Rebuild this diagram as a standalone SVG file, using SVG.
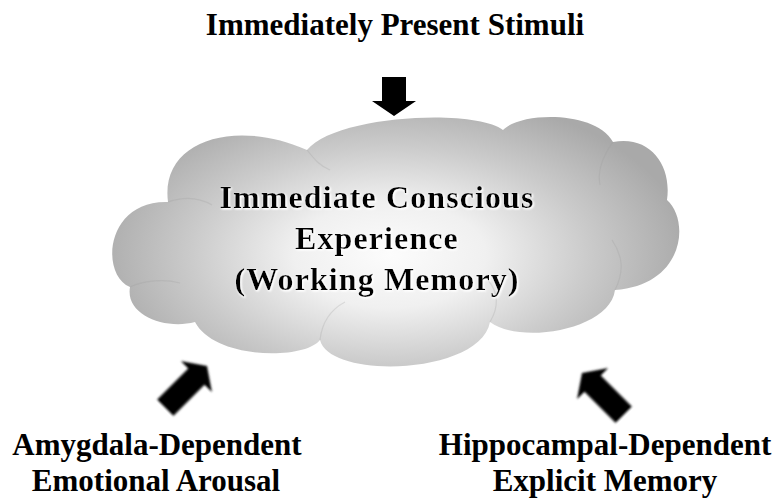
<svg xmlns="http://www.w3.org/2000/svg" width="777" height="498" viewBox="0 0 777 498">
  <style>
    .label { font-family: "Liberation Serif", "Times New Roman", serif; font-weight: bold; font-size: 31px; fill: #000; text-anchor: middle; }
    .inner { font-size: 32px; letter-spacing: 1.1px; }
    .arrow { fill: #000; }
    .lobe { fill: none; stroke: #9a9a9a; stroke-width: 1.2; opacity: 0.25; }
  </style>
  <defs>
    <radialGradient id="cloudFill" gradientUnits="userSpaceOnUse" cx="390" cy="255" r="300" gradientTransform="translate(390 255) scale(1 0.55) translate(-390 -255)">
      <stop offset="0" stop-color="#fcfcfc"/>
      <stop offset="0.32" stop-color="#f0f0f0"/>
      <stop offset="0.66" stop-color="#cbcbcb"/>
      <stop offset="1" stop-color="#a9a9a9"/>
    </radialGradient>
    <filter id="halo" x="-10%" y="-30%" width="120%" height="160%">
      <feGaussianBlur in="SourceAlpha" stdDeviation="1.2" result="b"/>
      <feOffset in="b" dx="1" dy="1" result="o"/>
      <feFlood flood-color="#ffffff"/>
      <feComposite in2="o" operator="in" result="glow"/>
      <feMerge>
        <feMergeNode in="glow"/>
        <feMergeNode in="glow"/>
        <feMergeNode in="SourceGraphic"/>
      </feMerge>
    </filter>
    <filter id="soft" x="-20%" y="-20%" width="140%" height="140%">
      <feGaussianBlur stdDeviation="0.8"/>
    </filter>
    <!-- block arrow, tip at origin pointing up -->
    <path id="longArrow" d="M0,0 L22,15 L11.5,15 L11.5,59 L-11.5,59 L-11.5,15 L-22,15 Z"/>
  </defs>

  <rect width="777" height="498" fill="#ffffff"/>

  <!-- incoming stimuli label -->
  <g id="stimuli">
    <text class="label" x="395" y="35">Immediately Present Stimuli</text>
  </g>

  <!-- working memory cloud -->
  <g id="working-memory">
    <path fill="url(#cloudFill)" d="M168,202
      C160,140 235,118 307,150
      C335,115 475,108 503,130
      C520,112 595,110 613,142
      C650,135 672,165 667,200
      C690,220 685,285 615,290
      C610,330 520,345 490,322
      C480,375 330,380 320,340
      C305,360 215,360 195,322
      C165,330 125,315 130,287
      C100,275 105,200 168,202 Z"/>
    <path class="lobe" d="M168,202 C185,196 200,198 212,205"/>
    <path class="lobe" d="M307,150 C315,160 320,166 330,170"/>
    <path class="lobe" d="M613,142 C600,160 598,175 600,185"/>
    <path class="lobe" d="M130,287 C145,280 165,279 180,283"/>
    <path class="lobe" d="M615,290 C625,270 622,255 612,240"/>
    <path class="lobe" d="M490,322 C500,305 498,292 488,280"/>
    <path class="lobe" d="M320,340 C322,322 330,310 345,302"/>
    <g filter="url(#halo)">
      <text class="label inner" x="377" y="208">Immediate Conscious</text>
      <text class="label inner" x="377" y="249">Experience</text>
      <text class="label inner" x="377" y="290">(Working Memory)</text>
    </g>
  </g>

  <!-- emotional input -->
  <g id="amygdala">
    <text class="label" x="157" y="455">Amygdala-Dependent</text>
    <text class="label" x="156" y="491">Emotional Arousal</text>
  </g>

  <!-- memory input -->
  <g id="hippocampus">
    <text class="label" x="605" y="455">Hippocampal-Dependent</text>
    <text class="label" x="605" y="491">Explicit Memory</text>
  </g>

  <!-- block arrows into the cloud -->
  <g id="connectors">
    <polygon class="arrow" points="382,77 406,77 406,101 416,101 394,116 372,101 382,101"/>
    <use href="#longArrow" class="arrow" filter="url(#soft)" transform="translate(207 366) rotate(45)"/>
    <use href="#longArrow" class="arrow" filter="url(#soft)" transform="translate(582 373) rotate(-45)"/>
  </g>
</svg>
